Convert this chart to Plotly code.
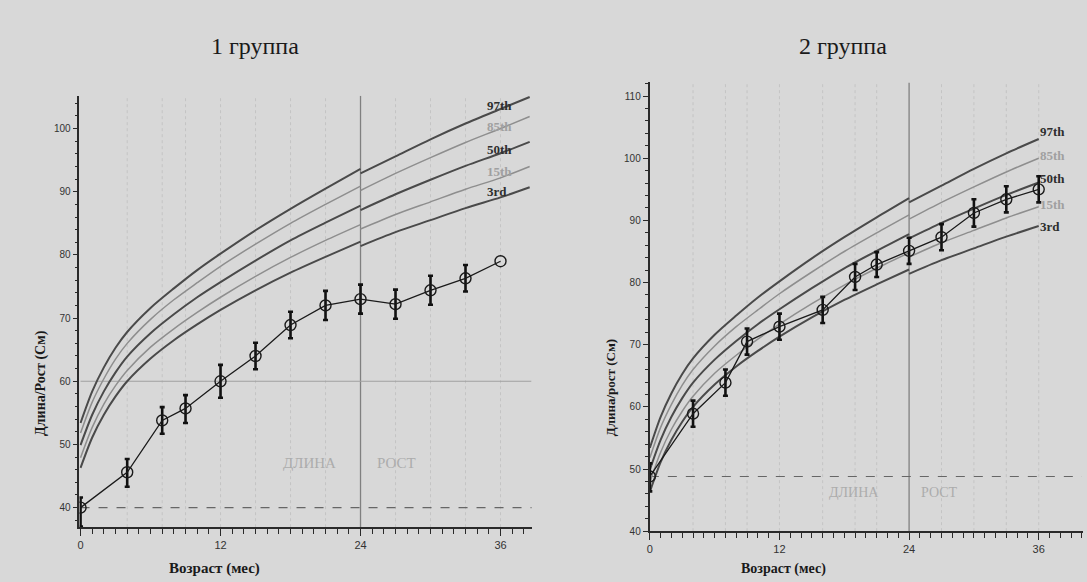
import plotly.graph_objects as go

# ---------------- data ----------------
# patient group means (age in months, length/height in cm) with error bars
ages1 = [0, 4, 7, 9, 12, 15, 18, 21, 24, 27, 30, 33, 36]
len1 = [40.0, 45.6, 53.8, 55.7, 60.0, 64.0, 68.9, 72.0, 73.0, 72.2, 74.4, 76.3, 79.0]
err1_up = [1.6, 2.1, 2.1, 2.1, 2.6, 2.1, 2.1, 2.3, 2.3, 2.3, 2.3, 2.1]   # last point has no bar
err1_dn = [3.0, 2.3, 2.1, 2.3, 2.6, 2.1, 2.1, 2.3, 2.3, 2.3, 2.3, 2.1]

ages2 = [0, 4, 7, 9, 12, 16, 19, 21, 24, 27, 30, 33, 36]
len2 = [48.8, 58.9, 63.9, 70.5, 72.9, 75.6, 80.9, 82.9, 85.1, 87.3, 91.2, 93.4, 95.0]
err2_up = [2.1, 2.1, 2.1, 2.1, 2.1, 2.1, 2.1, 2.0, 2.1, 2.1, 2.2, 2.1, 2.1]
err2_dn = [2.4, 2.1, 2.1, 2.1, 2.1, 2.1, 2.1, 2.0, 2.1, 2.1, 2.2, 2.1, 2.1]

# reference percentile curves: length (0-24 mo) and height (24+ mo)
ages_len = [0, 1, 2, 3, 4, 6, 8, 10, 12, 15, 18, 21, 24]
ages_hgt1 = [24, 27, 30, 33, 36, 38.5]
ages_hgt2 = [24, 27, 30, 33, 36]

p97_len = [53.4, 58.4, 62.2, 65.3, 67.8, 71.6, 74.7, 77.6, 80.2, 83.9, 87.3, 90.5, 93.6]
p85_len = [51.8, 56.7, 60.4, 63.5, 66.0, 69.8, 72.9, 75.6, 78.2, 81.7, 85.0, 88.0, 90.9]
p50_len = [49.9, 54.7, 58.4, 61.4, 63.9, 67.6, 70.6, 73.3, 75.7, 79.1, 82.3, 85.1, 87.8]
p15_len = [47.9, 52.7, 56.4, 59.3, 61.7, 65.4, 68.3, 70.9, 73.3, 76.6, 79.6, 82.3, 84.8]
p3_len = [46.3, 51.1, 54.7, 57.6, 60.0, 63.6, 66.5, 69.0, 71.3, 74.4, 77.2, 79.7, 82.1]

p97_hgt = [92.9, 95.6, 98.3, 100.8, 103.1, 105.0]
p85_hgt = [90.2, 92.9, 95.4, 97.8, 100.0, 101.9]
p50_hgt = [87.1, 89.6, 91.9, 94.1, 96.1, 97.9]
p15_hgt = [84.1, 86.4, 88.4, 90.4, 92.2, 94.0]
p3_hgt = [81.4, 83.6, 85.5, 87.4, 89.1, 90.7]

pct_names = ["97th", "85th", "50th", "15th", "3rd"]
titles = ["1 группа", "2 группа"]
ytitles = ["Длина/Рост (См)", "Длина/рост (См)"]
xtitle = "Возраст (мес)"
x_ticks = [0, 12, 24, 36]

# ---------------- styling ----------------
W, H = 1087, 582
BG = "#d8d8d8"
DARK = "#4a4a4a"
LIGHT = "#8e8e8e"
SERIF = "Liberation Serif, Times New Roman, serif"
SANS = "Liberation Sans, Arial, sans-serif"

def px_x(p):
    return p / W

def px_y(p):
    return 1 - p / H

fig = go.Figure()

panels = [
    dict(xa="x", ya="y", ages=ages1, vals=len1, eu=err1_up, ed=err1_dn,
         hgt_ages=ages_hgt1, ncut=6),
    dict(xa="x2", ya="y2", ages=ages2, vals=len2, eu=err2_up, ed=err2_dn,
         hgt_ages=ages_hgt2, ncut=5),
]

len_sets = [p97_len, p85_len, p50_len, p15_len, p3_len]
hgt_sets = [p97_hgt, p85_hgt, p50_hgt, p15_hgt, p3_hgt]

for P in panels:
    for k in range(5):
        dark = k in (0, 2, 4)
        hy = hgt_sets[k][:P["ncut"]]
        fig.add_trace(go.Scatter(
            x=ages_len + [None] + P["hgt_ages"],
            y=len_sets[k] + [None] + hy,
            mode="lines", line=dict(color=DARK if dark else LIGHT,
                                    width=2.0 if dark else 1.5, shape="spline", smoothing=0.8),
            xaxis=P["xa"], yaxis=P["ya"], showlegend=False, hoverinfo="skip"))
    n = len(P["eu"])
    # error bars (only for points that have them)
    fig.add_trace(go.Scatter(
        x=P["ages"][:n], y=P["vals"][:n], mode="markers",
        marker=dict(size=1, color="rgba(0,0,0,0)"),
        error_y=dict(type="data", array=P["eu"], arrayminus=P["ed"],
                     color="#111111", thickness=2.6, width=2.5),
        xaxis=P["xa"], yaxis=P["ya"], showlegend=False, hoverinfo="skip"))
    # data line with open circles
    fig.add_trace(go.Scatter(
        x=P["ages"], y=P["vals"], mode="lines+markers",
        line=dict(color="#1a1a1a", width=1.3),
        marker=dict(symbol="circle-open", size=11, color="#1a1a1a", line=dict(width=1.4)),
        xaxis=P["xa"], yaxis=P["ya"], showlegend=False))

common_x = dict(showgrid=False, zeroline=False, showline=True, linecolor="#2a2a2a", linewidth=1.6,
                ticks="outside", ticklen=7, tickwidth=1.4, tickcolor="#2a2a2a",
                tickmode="array", tickvals=x_ticks,
                tickfont=dict(family=SANS, size=11, color="#333333"),
                minor=dict(dtick=1, tick0=0, ticks="outside", ticklen=5, tickwidth=1.2,
                           tickcolor="#2a2a2a", showgrid=False))
common_y = dict(showgrid=False, zeroline=False, showline=True, linecolor="#2a2a2a", linewidth=1.6,
                ticks="outside", ticklen=5, tickwidth=1.2, tickcolor="#2a2a2a",
                dtick=10, tick0=0,
                tickfont=dict(family=SANS, size=10, color="#333333"),
                minor=dict(dtick=2, tick0=0, ticks="outside", ticklen=3, tickwidth=1,
                           tickcolor="#2a2a2a", showgrid=False))

fig.update_layout(
    width=W, height=H, autosize=False,
    margin=dict(l=0, r=0, t=0, b=0),
    paper_bgcolor=BG, plot_bgcolor=BG,
    xaxis=dict(domain=[px_x(76.7), px_x(530)], range=[-0.09, 38.66], anchor="y", **common_x),
    yaxis=dict(domain=[px_y(532.7), px_y(96.7)], range=[36.9, 105.2], anchor="x", **common_y),
    xaxis2=dict(domain=[px_x(648.3), px_x(1083)], range=[-0.03, 40.1], anchor="y2", **common_x),
    yaxis2=dict(domain=[px_y(536.7), px_y(83.3)], range=[40, 112.2], anchor="x2", **common_y),
)

shapes = []
for xa, ya, yr, base, ages in [("x", "y", (36.9, 105.2), len1[0], ages1),
                               ("x2", "y2", (40, 112.2), len2[0], ages2)]:
    for a in ages[1:]:
        if a == 24:
            continue
        shapes.append(dict(type="line", xref=xa, yref=ya, x0=a, x1=a, y0=yr[0], y1=yr[1],
                           line=dict(color="#c4c4c4", width=1, dash="dot"), layer="below"))
    shapes.append(dict(type="line", xref=xa, yref=ya, x0=24, x1=24, y0=yr[0], y1=yr[1],
                       line=dict(color="#808080", width=1.3), layer="below"))
    shapes.append(dict(type="line", xref=xa, yref=ya, x0=0, x1=40, y0=base, y1=base,
                       line=dict(color="#666666", width=1.1, dash="dash"), layer="below"))
shapes.append(dict(type="line", xref="x", yref="y", x0=0, x1=38.66, y0=60, y1=60,
                   line=dict(color="#a0a0a0", width=1.2), layer="below"))
fig.update_layout(shapes=shapes)

ann = []
def add_text(text, x, y, size, color="#1a1a1a", angle=0, family=SERIF):
    ann.append(dict(text=text, xref="paper", yref="paper", x=px_x(x), y=px_y(y),
                    xanchor="center", yanchor="middle", textangle=angle, showarrow=False,
                    font=dict(family=family, size=size, color=color)))

add_text(titles[0], 253, 46, 24)
add_text(titles[1], 842, 46, 24)
add_text("<b>" + ytitles[0] + "</b>", 38, 387, 14, angle=-90)
add_text("<b>" + ytitles[1] + "</b>", 610, 392, 13, angle=-90)
add_text("<b>" + xtitle + "</b>", 212, 574, 15)
add_text("<b>" + xtitle + "</b>", 783, 575, 14)

for xa, ya, xl, xr, yy, fs in [("x", "y", 19.6, 27.1, 47.0, 15), ("x2", "y2", 18.9, 26.8, 46.3, 14)]:
    for t, xx in (("ДЛИНА", xl), ("РОСТ", xr)):
        ann.append(dict(text=t, xref=xa, yref=ya, x=xx, y=yy, showarrow=False,
                        xanchor="center", yanchor="middle",
                        font=dict(family=SERIF, size=fs, color="#acacac")))

lab_pos = {
    "x": (34.7, [103.7, 100.4, 96.7, 93.2, 90.1]),
    "x2": (35.9, [104.3, 100.4, 96.8, 92.6, 89.1]),
}
for xa, ya in [("x", "y"), ("x2", "y2")]:
    x0, ys = lab_pos[xa]
    for k, name in enumerate(pct_names):
        dark = k in (0, 2, 4)
        ann.append(dict(text="<b>" + name + "</b>", xref=xa, yref=ya, x=x0, y=ys[k],
                        xanchor="left", yanchor="middle", showarrow=False,
                        font=dict(family=SERIF, size=13, color="#2e2e2e" if dark else "#a0a0a0")))
fig.update_layout(annotations=ann)

fig.write_html("out.html", config={"displayModeBar": False},
               post_script="document.body.style.margin='0';document.body.style.background='%s';" % BG)
